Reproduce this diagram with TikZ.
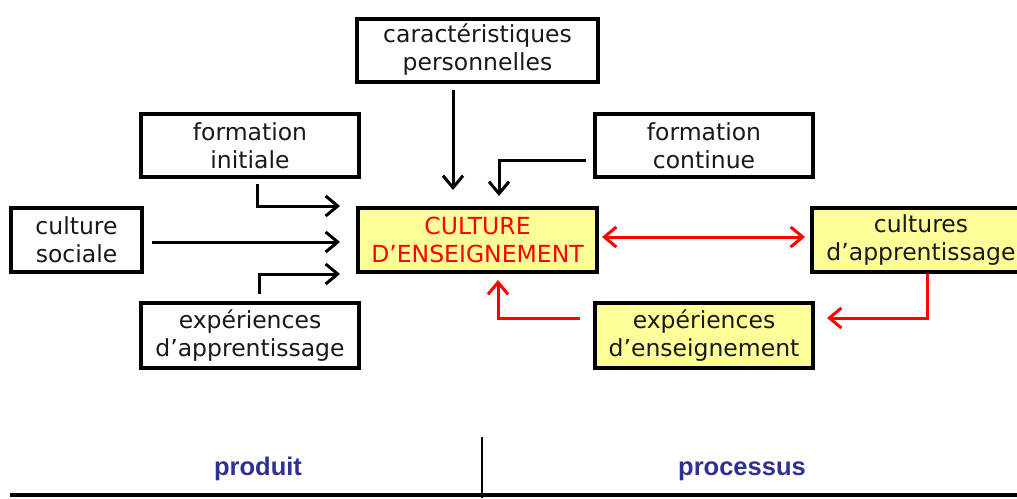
\documentclass[tikz,border=0pt]{standalone}
\usepackage{fontspec}
\setmainfont{DejaVu Sans}
\newfontfamily\labfont{Liberation Sans}
\usetikzlibrary{arrows.meta,calc}
\definecolor{boxyellow}{HTML}{FFFF99}
\definecolor{labblue}{HTML}{2E3192}
\begin{document}
\begin{tikzpicture}[x=1pt,y=-1pt,
  box/.style={draw=black,line width=4pt,minimum width=#1,align=center,inner sep=0pt,
    font=\fontsize{23.5}{28}\selectfont,text=black!90},
  box/.default=218pt,
  ybox/.style={box=#1,fill=boxyellow},
  ybox/.default=218pt,
  arr/.style={line width=3pt,-{Straight Barb[length=12pt,width=20pt,line width=3pt]}},
  rarr/.style={arr,draw=red},
  lab/.style={font=\labfont\bfseries\fontsize{25.5}{30}\selectfont,text=labblue,anchor=base}]
\useasboundingbox (0,0) rectangle (1017,498);
\fill[white] (0,0) rectangle (1017,498);
\node[box=241pt,minimum height=63pt] (caract) at (477.5,50) {caractéristiques\\personnelles};
\node[box,minimum height=63pt] (finit) at (250,145.5) {formation\\initiale};
\node[box,minimum height=63pt] (fcont) at (704,145.5) {formation\\continue};
\node[box=131pt,minimum height=64pt] (csoc) at (76.5,240) {culture\\sociale};
\node[ybox=239pt,minimum height=64pt,text=red] (ce) at (477.5,240) {CULTURE\\D’ENSEIGNEMENT};
\node[ybox,minimum height=64pt] (capp) at (921,240) {cultures\\d’apprentissage};
\node[box,minimum height=65pt] (eapp) at (250,335.5) {expériences\\d’apprentissage};
\node[ybox,minimum height=65pt] (eens) at (704,335.5) {expériences\\d’enseignement};

\draw[arr] ($(caract.south)+(-24.5,6)$) -- ($(ce.north)+(-24.5,-16)$);
\draw[arr] ($(fcont.west)+(-7,14.5)$) -| ($(ce.north)+(21.5,-10)$);
\draw[arr] ($(finit.south)+(7,5)$) |- ($(ce.west)+(-16,-34)$);
\draw[arr] ($(csoc.east)+(8,2)$) -- ($(ce.west)+(-16,2)$);
\draw[arr] ($(eapp.north)+(9,-7)$) |- ($(ce.west)+(-16,34)$);
\draw[rarr,{Straight Barb[length=12pt,width=20pt,line width=3pt]}-{Straight Barb[length=12pt,width=20pt,line width=3pt]}] ($(ce.east)+(3,-3)$) -- ($(capp.west)+(-5,-3)$);
\draw[rarr] ($(capp.south)+(6,0)$) |- ($(eens.east)+(12,-17.5)$);
\draw[rarr] ($(eens.west)+(-13,-17.5)$) -| ($(ce.south)+(20.5,6)$);

\draw[line width=2pt] (482,437) -- (482,498);
\draw[line width=3.5pt] (10,495) -- (1017,495);
\node[lab] (prod) at (258,475) {produit};
\node[lab] (proc) at (742,475) {processus};
\end{tikzpicture}
\end{document}
